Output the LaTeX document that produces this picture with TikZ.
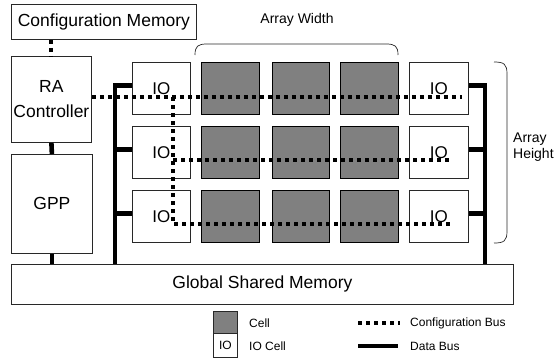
\documentclass[tikz,border=0pt]{standalone}
\usepackage{fontspec}
\setmainfont{Liberation Sans}
\definecolor{cellgray}{RGB}{128,128,128}
\definecolor{edge}{RGB}{40,40,40}
\begin{document}
\begin{tikzpicture}[x=1pt,y=-1pt,
  box/.style={draw=edge, line width=0.8pt, fill=white, inner sep=0pt, anchor=north west},
  bigtext/.style={font=\fontsize{17.5}{25}\selectfont},
  iocell/.style={box, minimum width=58pt, minimum height=52pt, font=\fontsize{17}{17}\selectfont},
  cell/.style={box, draw=black, fill=cellgray, minimum width=58pt, minimum height=52pt},
  databus/.style={draw=black, line width=4.6pt, line join=miter, line cap=butt},
  cfgbus/.style={draw=black, line width=4pt, dash pattern=on 4pt off 4pt},
  brace/.style={draw=edge, line width=0.7pt},
  label/.style={font=\fontsize{14}{15.5}\selectfont, inner sep=0pt},
  legtext/.style={font=\fontsize{12}{12}\selectfont, inner sep=0pt, anchor=west}]
\useasboundingbox (0,0) rectangle (554,357);

% system blocks
\node[box, bigtext, minimum width=185pt, minimum height=35pt] (cfg) at (11,4) {Configuration Memory};
\node[box, bigtext, minimum width=80pt, minimum height=86pt, align=center] (ra) at (11,56) {RA\\Controller};
\node[box, bigtext, minimum width=81pt, minimum height=99pt] (gpp) at (11,154) {GPP};
\node[box, bigtext, minimum width=502pt, minimum height=40pt] (gsm) at (11,264) {Global Shared Memory};

% array of IO cells and compute cells
\foreach \r in {1,2,3} {
  \pgfmathsetmacro{\yy}{62+(\r-1)*64}
  \node[iocell] (ioL\r) at (132,\yy) {IO};
  \node[cell, minimum width=58pt] (c1\r) at (201,\yy) {};
  \node[cell, minimum width=57pt] (c2\r) at (272,\yy) {};
  \node[cell, minimum width=58pt] (c3\r) at (340,\yy) {};
  \node[iocell, minimum width=59pt] (ioR\r) at (409,\yy) {IO};
}

% braces for the array dimensions
\draw[brace] (195,55) .. controls (195,46) and (198,44) .. (207,44) -- (386,44)
  .. controls (395,44) and (398,46) .. (398,55);
\node[label] (aw) at (297,20) {Array Width};
\draw[brace] (494,62) .. controls (504,62) and (507,64) .. (507,74) -- (507,231)
  .. controls (507,241) and (504,243) .. (494,243);
\node[label, anchor=west, align=left] (ah) at (513,147) {Array\\Height};

% data buses
\coordinate (lbx) at (115,0);
\coordinate (rbx) at (485,0);
\draw[databus] ([yshift=3pt]ioL1.west) -| (gsm.north -| lbx);
\draw[databus] ([yshift=3pt]ioL2.west) -- ([yshift=3pt]ioL2.west -| lbx);
\draw[databus] ([yshift=3pt]ioL3.west) -- ([yshift=3pt]ioL3.west -| lbx);
\draw[databus] ([yshift=3pt]ioR1.east) -| (gsm.north -| rbx);
\draw[databus] ([yshift=3pt]ioR2.east) -- ([yshift=3pt]ioR2.east -| rbx);
\draw[databus] ([yshift=3pt]ioR3.east) -- ([yshift=3pt]ioR3.east -| rbx);
\draw[databus] (ra.south) -- (gpp.north);
\draw[databus] (gpp.south) -- (gpp.south |- gsm.north);

% configuration buses
\coordinate (vx) at (173,0);
\coordinate (end1) at (462,97);
\coordinate (end2) at (452,160);
\coordinate (end3) at (452,224);
\draw[cfgbus] (ra.north |- cfg.south) -- (ra.north);
\draw[cfgbus] (ra.east |- end1) -- (end1);
\draw[cfgbus] (vx |- end1) -- (vx |- end3) -- (end3);
\draw[cfgbus] (vx |- end2) -- (end2);

% legend
\node[box, fill=cellgray, minimum width=24pt, minimum height=22pt] (lgcell) at (213,311) {};
\node[box, minimum width=24pt, minimum height=24pt, font=\fontsize{12}{12}\selectfont] (lgio) at (213,333) {IO};
\node[legtext] (tcell) at (249,323) {Cell};
\node[legtext] (tio) at (249,346) {IO Cell};
\coordinate (lc1) at (358,323);
\coordinate (lc2) at (400,323);
\coordinate (ld1) at (358,346);
\coordinate (ld2) at (398,346);
\draw[cfgbus] (lc1) -- (lc2);
\draw[databus] (ld1) -- (ld2);
\node[legtext] (tcfg) at (410,323) {Configuration Bus};
\node[legtext] (tdata) at (410,346) {Data Bus};
\end{tikzpicture}
\end{document}
